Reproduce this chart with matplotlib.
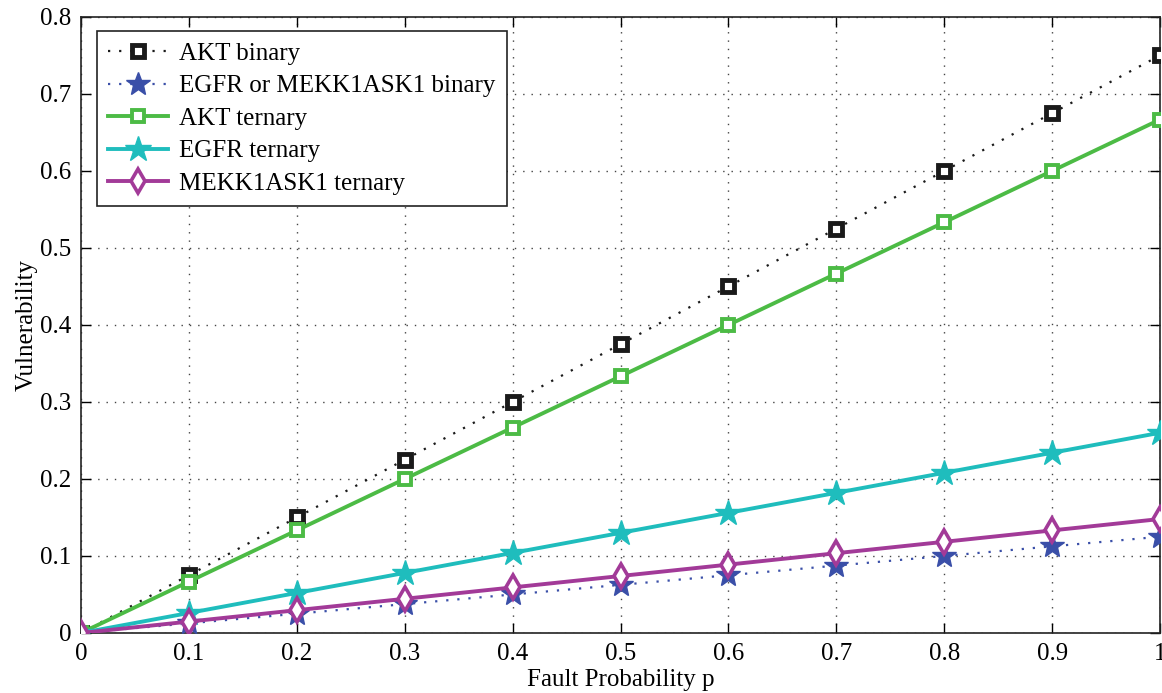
import numpy as np
import matplotlib
matplotlib.use('Agg')
import matplotlib.pyplot as plt

plt.rcParams['font.family'] = ['Liberation Serif', 'DejaVu Serif']
plt.rcParams['font.size'] = 18

# data
p = [0, 0.1, 0.2, 0.3, 0.4, 0.5, 0.6, 0.7, 0.8, 0.9, 1.0]
akt_binary = [0, 0.075, 0.15, 0.225, 0.30, 0.375, 0.45, 0.525, 0.60, 0.675, 0.75]
egfr_mekk_binary = [0, 0.0125, 0.025, 0.0375, 0.05, 0.0625, 0.075, 0.0875, 0.10, 0.1125, 0.125]
akt_ternary = [0, 0.0667, 0.1333, 0.20, 0.2667, 0.3333, 0.40, 0.4667, 0.5333, 0.60, 0.6667]
egfr_ternary = [0, 0.026, 0.052, 0.078, 0.104, 0.13, 0.156, 0.182, 0.208, 0.234, 0.26]
mekk_ternary = [0, 0.0148, 0.0296, 0.0444, 0.0592, 0.074, 0.0888, 0.1036, 0.1184, 0.1332, 0.148]

fig = plt.figure(figsize=(11.62, 6.93), dpi=100)
ax = fig.add_axes([0.0697, 0.0866, 0.9286, 0.889])

dots = (0, (1, 4))
ax.plot(p, akt_binary, linestyle=dots, color='#1a1a1a', lw=1.6, marker='s', ms=8,
        mfc='white', mec='#1a1a1a', mew=3.5, label='AKT binary', zorder=3)
ax.plot(p, egfr_mekk_binary, linestyle=dots, color='#3a4fa8', lw=1.6, marker='*', ms=18,
        mfc='#3a4fa8', mec='#3a4fa8', label='EGFR or MEKK1ASK1 binary', zorder=3)
ax.plot(p, akt_ternary, '-', color='#4cbb45', lw=2.8, marker='s', ms=8,
        mfc='white', mec='#4cbb45', mew=2.8, label='AKT ternary', zorder=4)
ax.plot(p, egfr_ternary, '-', color='#1fbdbd', lw=2.8, marker='*', ms=19,
        mfc='#1fbdbd', mec='#1fbdbd', label='EGFR ternary', zorder=4)
ax.plot(p, mekk_ternary, '-', color='#a23a98', lw=2.8, marker='d', ms=12,
        mfc='white', mec='#a23a98', mew=2.6, label='MEKK1ASK1 ternary', zorder=5)

ax.set_xlim(0, 1)
ax.set_ylim(0, 0.8)
ax.set_xticks(np.arange(0, 1.01, 0.1))
ax.set_xticklabels(['0', '0.1', '0.2', '0.3', '0.4', '0.5', '0.6', '0.7', '0.8', '0.9', '1'])
ax.set_yticks(np.arange(0, 0.81, 0.1))
ax.set_yticklabels(['0', '0.1', '0.2', '0.3', '0.4', '0.5', '0.6', '0.7', '0.8'])
ax.tick_params(direction='in', length=7, width=1, top=True, right=True, pad=7)
ax.grid(True, linestyle=(0, (1, 5)), color='#444444', lw=1)
for s in ax.spines.values():
    s.set_linewidth(1.2)
    s.set_color('#222222')

ax.set_xlabel('Fault Probability p', labelpad=3)
ax.set_ylabel('Vulnerability', labelpad=2)

leg = ax.legend(loc='upper left', bbox_to_anchor=(0.0148, 0.977), borderaxespad=0,
                fancybox=False, edgecolor='#222222', framealpha=1, handlelength=2.4,
                borderpad=0.45, labelspacing=0.4, handletextpad=0.45)
leg.get_frame().set_linewidth(1.2)

fig.savefig('out.png', dpi=100)
